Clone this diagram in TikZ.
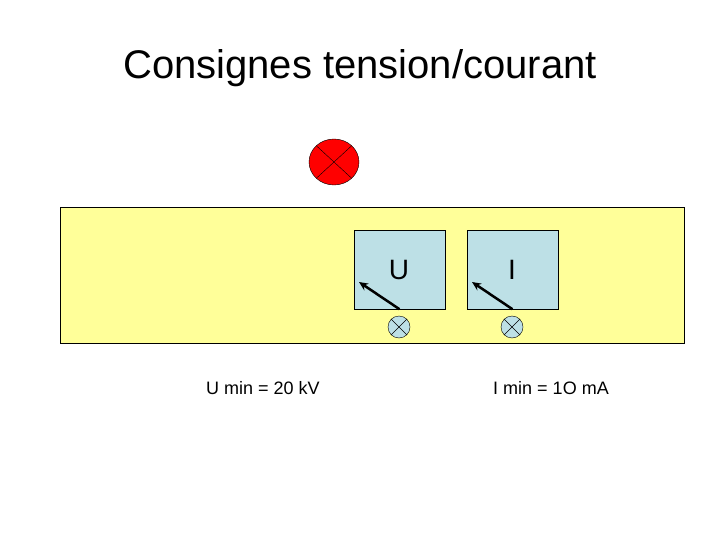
\documentclass[tikz,border=0pt]{standalone}
\usepackage{fontspec}
\setmainfont{Liberation Sans}
\usetikzlibrary{shapes.geometric,arrows.meta}
\begin{document}
\begin{tikzpicture}[x=1pt,y=-1pt,
  meter/.style={draw,fill=lbl,minimum width=91pt,minimum height=79pt,inner sep=0},
  lamp/.style={draw,circle,fill=lbl,minimum size=22pt,inner sep=0},
  needle/.style={line width=2.5pt,-{Stealth[length=9pt,width=8pt]}}]
\definecolor{lbl}{RGB}{189,224,230}
\definecolor{bgy}{RGB}{255,255,153}
\useasboundingbox (0,0) rectangle (720,540);
\node[font=\fontsize{40}{46}\selectfont] (title) at (360,68) {Consignes tension/courant};
\node[draw,fill=red,ellipse,minimum width=50pt,minimum height=46pt,inner sep=0] (red) at (334,162) {};
\draw[line width=0.4pt] (red.north west) -- (red.south east) (red.north east) -- (red.south west);
\node[draw,fill=bgy,minimum width=624pt,minimum height=136pt,inner sep=0] (panel) at (372,275) {};
\node[meter] (mu) at (399.5,269.5) {};
\node[meter] (mi) at (512.5,269.5) {};
\node[font=\fontsize{28}{32}\selectfont] (tu) at (399,270) {U};
\node[font=\fontsize{28}{32}\selectfont] (ti) at (512,270) {I};
\coordinate (nu) at (359,282);
\coordinate (ni) at (472,282);
\draw[needle] (mu.south) -- (nu);
\draw[needle] (mi.south) -- (ni);
\node[lamp] (lu) at (399,327) {};
\node[lamp] (li) at (512,327) {};
\draw[line width=0.4pt] (lu.north west) -- (lu.south east) (lu.north east) -- (lu.south west);
\draw[line width=0.4pt] (li.north west) -- (li.south east) (li.north east) -- (li.south west);
\node[font=\fontsize{18}{21}\selectfont] (lab1) at (263,388) {U min = 20 kV};
\node[font=\fontsize{18}{21}\selectfont] (lab2) at (551,388) {I min = 1O mA};
\end{tikzpicture}
\end{document}
